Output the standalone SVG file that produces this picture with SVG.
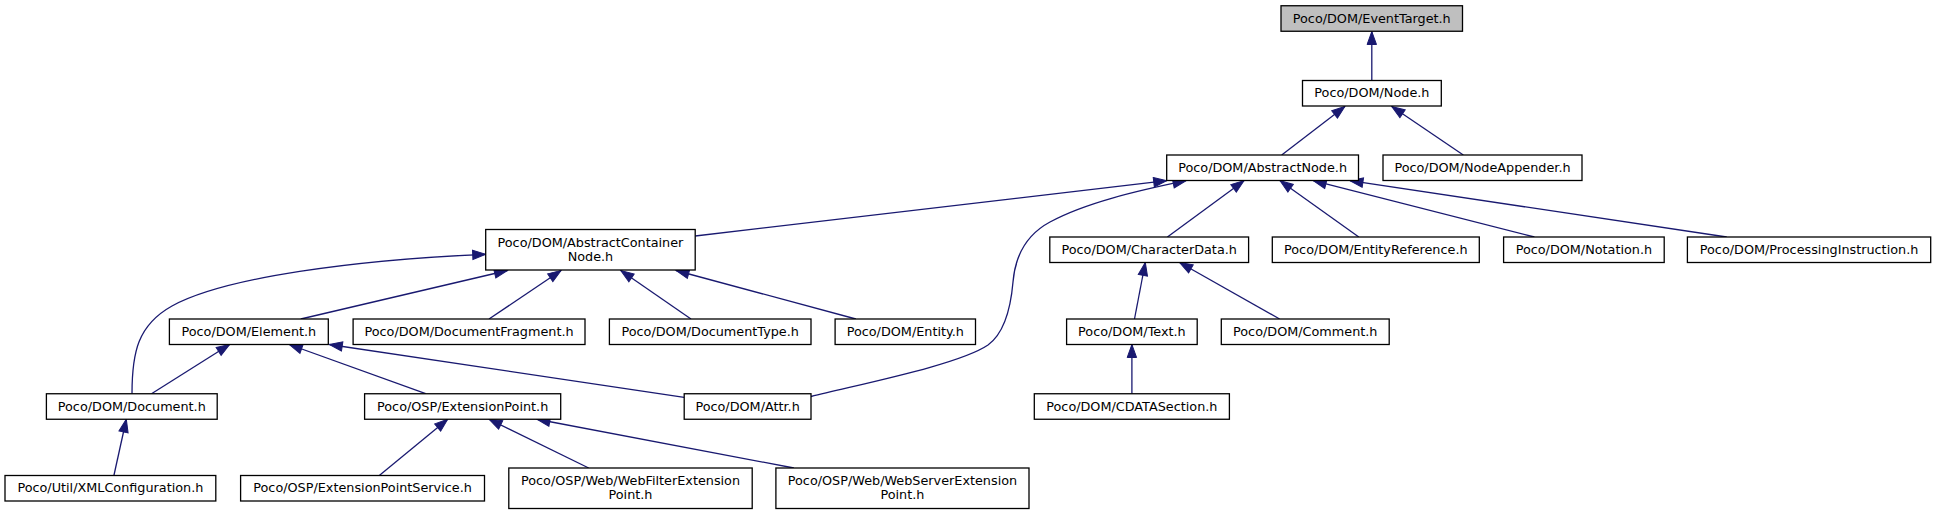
<svg xmlns="http://www.w3.org/2000/svg" width="1936" height="515" viewBox="0 0 1936 515">
<style>
.n rect{fill:#ffffff;stroke:#000000;stroke-width:1.3}
.n.g rect{fill:#bfbfbf}
.n text{font-family:"DejaVu Sans","Liberation Sans",sans-serif;font-size:12.8px;text-anchor:middle;fill:#000000}
#edges path{fill:none;stroke:#191970;stroke-width:1.3;marker-end:url(#ah)}
</style>
<defs>
<marker id="ah" markerUnits="userSpaceOnUse" markerWidth="16" markerHeight="12" viewBox="0 0 16 12" refX="14" refY="6" orient="auto">
<path d="M1,1.3 L14,6 L1,10.7 z" fill="#191970" stroke="#191970" stroke-width="1"/>
</marker>
</defs>
<rect x="0" y="0" width="1936" height="515" fill="#ffffff"/>
<g id="edges">
<path d="M1371.8,80.5 L1371.8,31.5"/>
<path d="M1281.7,155 L1344.9,106.5"/>
<path d="M1463.3,155 L1391.8,106.5"/>
<path d="M695.2,236 L1166.7,180.7"/>
<path d="M811,396.5 C870,382 960,364 988,345 C1006,332 1011,305 1013,282 C1015,258 1024,236 1050,222 C1085,203 1136,191 1186,180.7"/>
<path d="M1167.4,237 L1244,180.7"/>
<path d="M1358.8,237 L1280,180.7"/>
<path d="M1534.4,237 L1313.3,180.7"/>
<path d="M1726.7,237 L1350,180.7"/>
<path d="M300.8,319 L507.4,270.5"/>
<path d="M489,319 L561,270.5"/>
<path d="M691,319 L620.8,270.5"/>
<path d="M855.9,319 L676,270.5"/>
<path d="M132,393.7 C132,352 138,325 172,306 C225,277 355,260 485.7,254.3"/>
<path d="M151.5,393.7 L229.6,344.5"/>
<path d="M425.7,393.7 L289.3,344.5"/>
<path d="M684.2,397.3 L329.3,344.5"/>
<path d="M113.9,475.5 L126.3,419.25"/>
<path d="M379.3,475.5 L447.7,419.25"/>
<path d="M588.7,468 L489,419.25"/>
<path d="M793.9,468 L537,419.25"/>
<path d="M1134.5,319 L1145.3,262.5"/>
<path d="M1279.6,319 L1179.6,262.5"/>
<path d="M1131.9,393.75 L1131.9,344.5"/>
</g>
<g id="node1" class="n g"><rect x="1281" y="5.75" width="181.5" height="25.5"/><text x="1371.75" y="22.5">Poco/DOM/EventTarget.h</text></g>
<g id="node2" class="n"><rect x="1302.5" y="80.5" width="138.8" height="25.5"/><text x="1371.9" y="97.25">Poco/DOM/Node.h</text></g>
<g id="node3" class="n"><rect x="1166.7" y="155" width="191.8" height="25.5"/><text x="1262.6" y="171.5">Poco/DOM/AbstractNode.h</text></g>
<g id="node4" class="n"><rect x="1383" y="155" width="199" height="25.5"/><text x="1482.5" y="171.5">Poco/DOM/NodeAppender.h</text></g>
<g id="node5" class="n"><rect x="485.7" y="229.5" width="209.5" height="40.5"/><text x="590.45" y="246.7">Poco/DOM/AbstractContainer</text><text x="590.45" y="260.5">Node.h</text></g>
<g id="node6" class="n"><rect x="1049.8" y="237" width="198.8" height="25.5"/><text x="1149.2" y="253.75">Poco/DOM/CharacterData.h</text></g>
<g id="node7" class="n"><rect x="1272.3" y="237" width="207" height="25.5"/><text x="1375.8" y="253.75">Poco/DOM/EntityReference.h</text></g>
<g id="node8" class="n"><rect x="1503.6" y="237" width="160.6" height="25.5"/><text x="1583.9" y="253.75">Poco/DOM/Notation.h</text></g>
<g id="node9" class="n"><rect x="1687.4" y="237" width="243.3" height="25.5"/><text x="1809.05" y="253.75">Poco/DOM/ProcessingInstruction.h</text></g>
<g id="node10" class="n"><rect x="169.4" y="319" width="158.9" height="25.5"/><text x="248.85" y="335.75">Poco/DOM/Element.h</text></g>
<g id="node11" class="n"><rect x="353.1" y="319" width="231.9" height="25.5"/><text x="469.05" y="335.75">Poco/DOM/DocumentFragment.h</text></g>
<g id="node12" class="n"><rect x="609.4" y="319" width="201.6" height="25.5"/><text x="710.2" y="335.75">Poco/DOM/DocumentType.h</text></g>
<g id="node13" class="n"><rect x="835.1" y="319" width="140.4" height="25.5"/><text x="905.3" y="335.75">Poco/DOM/Entity.h</text></g>
<g id="node14" class="n"><rect x="1066.6" y="319" width="130.6" height="25.5"/><text x="1131.9" y="335.75">Poco/DOM/Text.h</text></g>
<g id="node15" class="n"><rect x="1221.3" y="319" width="167.9" height="25.5"/><text x="1305.25" y="335.75">Poco/DOM/Comment.h</text></g>
<g id="node16" class="n"><rect x="46.4" y="393.75" width="170.8" height="25.5"/><text x="131.8" y="410.5">Poco/DOM/Document.h</text></g>
<g id="node17" class="n"><rect x="364.6" y="393.75" width="196.1" height="25.5"/><text x="462.65" y="410.5">Poco/OSP/ExtensionPoint.h</text></g>
<g id="node18" class="n"><rect x="684.2" y="393.75" width="126.8" height="25.5"/><text x="747.6" y="410.5">Poco/DOM/Attr.h</text></g>
<g id="node19" class="n"><rect x="1034.3" y="393.75" width="195.1" height="25.5"/><text x="1131.85" y="410.5">Poco/DOM/CDATASection.h</text></g>
<g id="node20" class="n"><rect x="5" y="475.5" width="210.8" height="25.5"/><text x="110.4" y="492.25">Poco/Util/XMLConfiguration.h</text></g>
<g id="node21" class="n"><rect x="240.6" y="475.5" width="243.9" height="25.5"/><text x="362.55" y="492.25">Poco/OSP/ExtensionPointService.h</text></g>
<g id="node22" class="n"><rect x="508.8" y="468" width="243.4" height="40.5"/><text x="630.5" y="484.9">Poco/OSP/Web/WebFilterExtension</text><text x="630.5" y="498.8">Point.h</text></g>
<g id="node23" class="n"><rect x="775.9" y="468" width="253.1" height="40.5"/><text x="902.45" y="484.9">Poco/OSP/Web/WebServerExtension</text><text x="902.45" y="498.8">Point.h</text></g>
</svg>
